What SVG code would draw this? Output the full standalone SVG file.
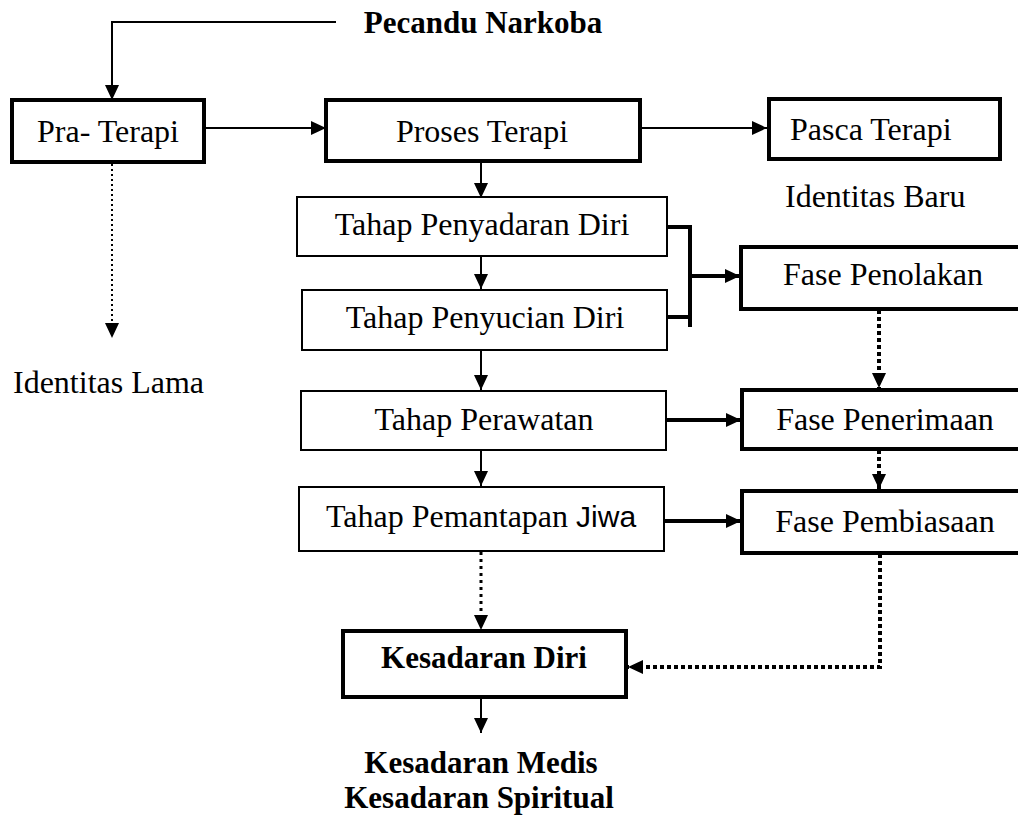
<svg xmlns="http://www.w3.org/2000/svg" width="1018" height="817" viewBox="0 0 1018 817">
<style>
.t{font-family:"Liberation Serif","Times New Roman",serif;font-size:32px;fill:#000}
.b{font-weight:bold;font-size:31px}
.thick{fill:#fff;stroke:#000;stroke-width:4}
.thin{fill:#fff;stroke:#000;stroke-width:2}
.ln{fill:none;stroke:#000;stroke-width:2}
.ln4{fill:none;stroke:#000;stroke-width:4}
.dot{fill:none;stroke:#000;stroke-width:2;stroke-dasharray:2 3}
.dot4{fill:none;stroke:#000;stroke-width:4;stroke-dasharray:4 3}
.dot3{fill:none;stroke:#000;stroke-width:3;stroke-dasharray:3 4}
</style>
<defs>
<marker id="ah" markerWidth="15" markerHeight="14" refX="15" refY="7" orient="auto" markerUnits="userSpaceOnUse"><path d="M0,0 L15,7 L0,14 z" fill="#000"/></marker>
</defs>
<rect width="1018" height="817" fill="#fff"/>
<g id="connectors">
<path class="ln" d="M336,22 H112 V100" marker-end="url(#ah)"/>
<path class="ln" d="M205,128 H326" marker-end="url(#ah)"/>
<path class="ln" d="M641,128 H767" marker-end="url(#ah)"/>
<path class="ln" d="M481,162 V198" marker-end="url(#ah)"/>
<path class="ln" d="M481,256 V289" marker-end="url(#ah)"/>
<path class="ln" d="M481,350 V390" marker-end="url(#ah)"/>
<path class="ln" d="M481,450 V486" marker-end="url(#ah)"/>
<path class="dot" d="M112,164 V338" marker-end="url(#ah)"/>
<path class="ln4" d="M667,227 H690 V327 M667,317 H690"/>
<path class="ln4" d="M690,276 H740" marker-end="url(#ah)"/>
<path class="ln4" d="M666,420 H741" marker-end="url(#ah)"/>
<path class="ln4" d="M664,521 H741" marker-end="url(#ah)"/>
<path class="dot4" d="M879,310 V388" marker-end="url(#ah)"/>
<path class="dot4" d="M879,450 V489" marker-end="url(#ah)"/>
<path class="dot3" d="M481,552 V630" marker-end="url(#ah)"/>
<path class="dot4" d="M880,554 V667 H628" marker-end="url(#ah)"/>
<path class="ln" d="M481,698 V733" marker-end="url(#ah)"/>
</g>
<g id="pecandu"><text class="t b" x="483" y="33" text-anchor="middle">Pecandu Narkoba</text></g>
<g id="pra-terapi"><rect class="thick" x="12" y="100" width="192" height="62"/><text class="t" x="108" y="142" text-anchor="middle">Pra- Terapi</text></g>
<g id="identitas-lama"><text class="t" x="13" y="393">Identitas Lama</text></g>
<g id="proses-terapi"><rect class="thick" x="326" y="100" width="314" height="61"/><text class="t" x="482" y="142" text-anchor="middle">Proses Terapi</text></g>
<g id="pasca-terapi"><rect class="thick" x="769" y="99" width="231" height="60"/><text class="t" x="790" y="140">Pasca Terapi</text></g>
<g id="identitas-baru"><text class="t" x="785" y="207">Identitas Baru</text></g>
<g id="tahap-penyadaran"><rect class="thin" x="297" y="197" width="370" height="59"/><text class="t" x="482" y="235" text-anchor="middle">Tahap Penyadaran Diri</text></g>
<g id="tahap-penyucian"><rect class="thin" x="302" y="290" width="365" height="60"/><text class="t" x="485" y="328" text-anchor="middle">Tahap Penyucian Diri</text></g>
<g id="tahap-perawatan"><rect class="thin" x="301" y="391" width="365" height="59"/><text class="t" x="484" y="430" text-anchor="middle">Tahap Perawatan</text></g>
<g id="tahap-pemantapan"><rect class="thin" x="299" y="487" width="365" height="64"/><text class="t" x="481" y="527" text-anchor="middle">Tahap Pemantapan <tspan font-family="Liberation Sans, Arial, sans-serif" font-size="30">Jiwa</tspan></text></g>
<g id="fase-penolakan"><rect class="thick" x="741" y="247" width="285" height="62"/><text class="t" x="883" y="285" text-anchor="middle">Fase Penolakan</text></g>
<g id="fase-penerimaan"><rect class="thick" x="742" y="390" width="284" height="59"/><text class="t" x="885" y="430" text-anchor="middle">Fase Penerimaan</text></g>
<g id="fase-pembiasaan"><rect class="thick" x="742" y="491" width="284" height="62"/><text class="t" x="885" y="532" text-anchor="middle">Fase Pembiasaan</text></g>
<g id="kesadaran-diri"><rect class="thick" x="343" y="631" width="283" height="66"/><text class="t b" x="484" y="668" text-anchor="middle">Kesadaran Diri</text></g>
<g id="kesadaran-akhir"><text class="t b" x="481" y="773" text-anchor="middle">Kesadaran Medis</text><text class="t b" x="479" y="808" text-anchor="middle">Kesadaran Spiritual</text></g>
</svg>
